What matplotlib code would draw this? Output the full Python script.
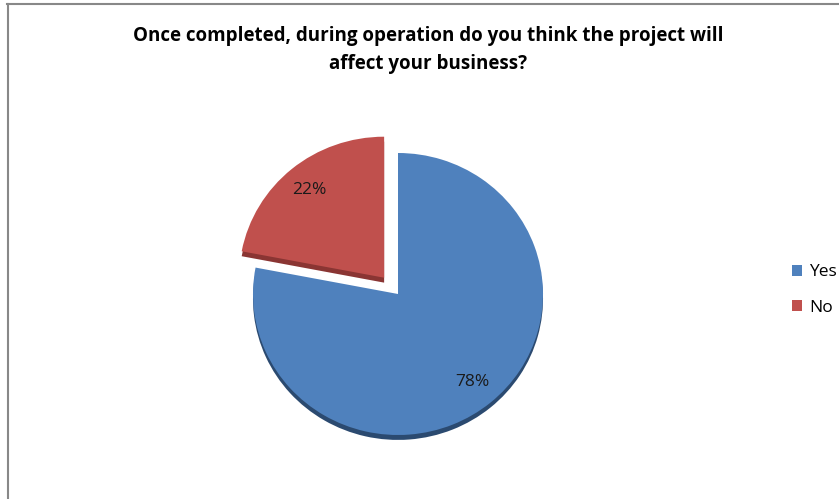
import matplotlib.pyplot as plt
from matplotlib.patches import Patch

labels = ["Yes", "No"]
values = [78, 22]
colors = ["#4F81BD", "#C0504D"]
edge_colors = ["#2B4A70", "#8A3533"]
title = "Once completed, during operation do you think the project will\naffect your business?"

plt.rcParams['font.family'] = ['Open Sans', 'DejaVu Sans']

fig = plt.figure(figsize=(8.39, 4.99), dpi=100)

# frame lines (top and left only, like the cropped chart area)
fig.add_artist(plt.Line2D([7 / 839, 838 / 839], [1 - 4 / 499, 1 - 4 / 499], color="#888888", lw=1.5))
fig.add_artist(plt.Line2D([7.5 / 839, 7.5 / 839], [0, 1 - 4 / 499], color="#888888", lw=1.5))

fig.text(428 / 839, 1 - 50 / 499, title, ha="center", va="center",
         fontsize=13.5, fontweight="bold", linespacing=1.5)

# pie axes: center at (398, 294) px, radius 145 px wide, 141 px tall
rx, ry = 145, 141
half = 200
ax = fig.add_axes([(398 - half) / 839, (499 - 294 - half) / 499, 2 * half / 839, 2 * half / 499])
ax.axis("off")

explode = [0, 0.15]

# darker copy shifted down gives the thin 3d edge
ax.pie(values, colors=edge_colors, startangle=90, counterclock=False,
       explode=explode, center=(0, -0.035), radius=1.0)

wedges, texts, autotexts = ax.pie(values, colors=colors, startangle=90, counterclock=False,
                                  explode=explode, autopct="%1.0f%%", pctdistance=0.81,
                                  radius=1.0, textprops={"fontsize": 12.5, "color": "#1a1a1a"})
ax.set_aspect("auto")
ax.set_xlim(-half / rx, half / rx)
ax.set_ylim(-half / ry, half / ry)

handles = [Patch(facecolor=c, edgecolor="none", label=l) for c, l in zip(colors, labels)]
fig.legend(handles=handles, loc="center left", bbox_to_anchor=(776 / 839, 1 - 290 / 499),
           frameon=False, fontsize=12.5, handlelength=0.6, handleheight=0.6,
           handletextpad=0.4, labelspacing=1.1)

fig.savefig("out.png", dpi=100)
